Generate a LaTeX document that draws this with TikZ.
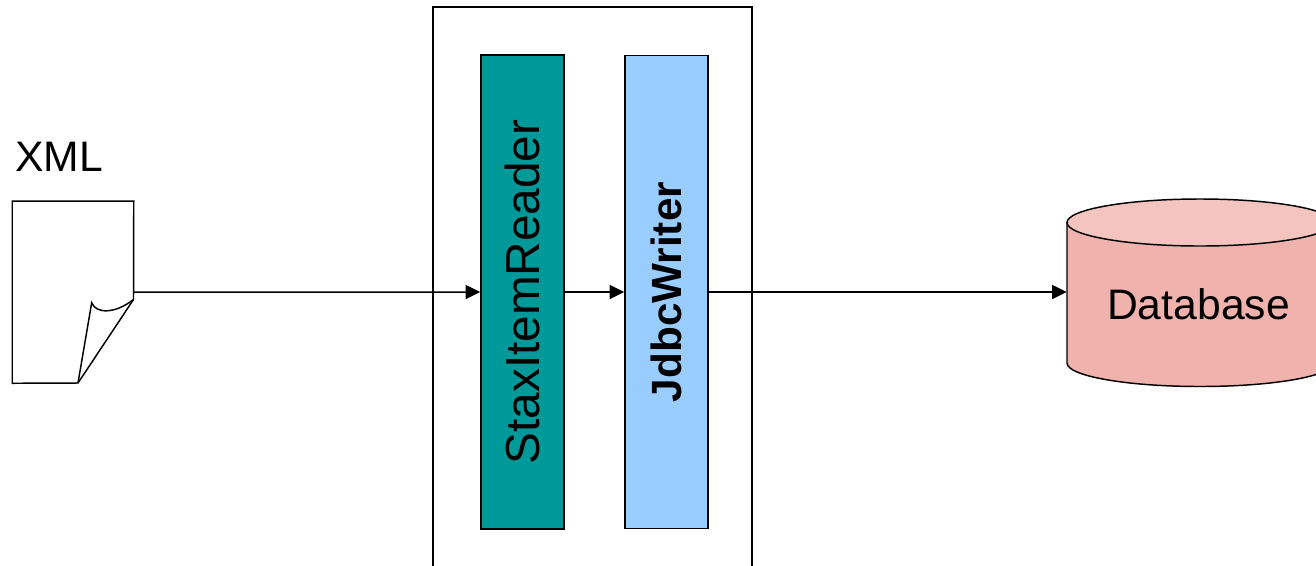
\documentclass[tikz,border=0pt]{standalone}
\usepackage{fontspec}
\setmainfont{Liberation Sans}
\usetikzlibrary{arrows.meta}
\definecolor{teal1}{HTML}{009999}
\definecolor{blue1}{HTML}{99CCFF}
\definecolor{dbbody}{HTML}{F0B2AC}
\definecolor{dbtop}{HTML}{F4C4BE}
\tikzset{
  ln/.style={line width=1.1pt,draw=black},
  barbox/.style={ln,rectangle,inner sep=0pt,minimum width=62.25pt},
  flow/.style={line width=1.1pt,-{Triangle[length=11pt,width=10.5pt]}},
  lab/.style={inner sep=0pt,anchor=base,font=\fontsize{32}{36}\selectfont},
}
\begin{document}
\begin{tikzpicture}[x=0.75pt,y=-0.75pt]
\useasboundingbox (0,0) rectangle (1316,565);
\clip (0,0) rectangle (1316,565);
% outer frame
\draw[ln] (433,600) -- (433,7) -- (752,7) -- (752,600);
% XML document
\node[inner sep=0pt,minimum width=90.75pt,minimum height=136.2pt] (xml) at (73,292.2) {};
\draw[ln,line join=miter,fill=white] (xml.north west) -- (xml.north east) -- (133.5,299.5) -- (78,383) -- (xml.south west) -- cycle;
\draw[ln,line join=miter] (78,383) -- (91.7,302.7) .. controls (96,314) and (115,314) .. (133.5,299.5);
\node[lab,anchor=base west] (xmllab) at (15,171) {XML};
% bars
\node[barbox,fill=teal1,minimum height=355.5pt,
  font=\fontsize{35.8}{40}\selectfont] (reader) at (522.5,292) {\rotatebox{90}{StaxItemReader}};
\node[barbox,fill=blue1,minimum height=355pt,
  font=\fontsize{31.7}{36}\selectfont\bfseries] (writer) at (666.5,292) {\rotatebox{90}{JdbcWriter}};
% database
\node[inner sep=0pt,minimum width=199.5pt,minimum height=140.25pt] (db) at (1200,292.5) {};
\path[ln,fill=dbbody] (1067,222.5) -- (1067,363) arc[start angle=180,end angle=0,x radius=133,y radius=23.5] -- (1333,222.5) -- cycle;
\draw[ln,fill=dbtop] (1200,222.5) ellipse[x radius=133,y radius=23.5];
\node[lab] (dblab) at (1198.5,319) {Database};
% connectors
\draw[flow] (xml.east) -- (reader.west);
\draw[flow] (reader.east) -- (writer.west);
\draw[flow] (writer.east) -- (db.west |- writer.east);
\end{tikzpicture}
\end{document}
